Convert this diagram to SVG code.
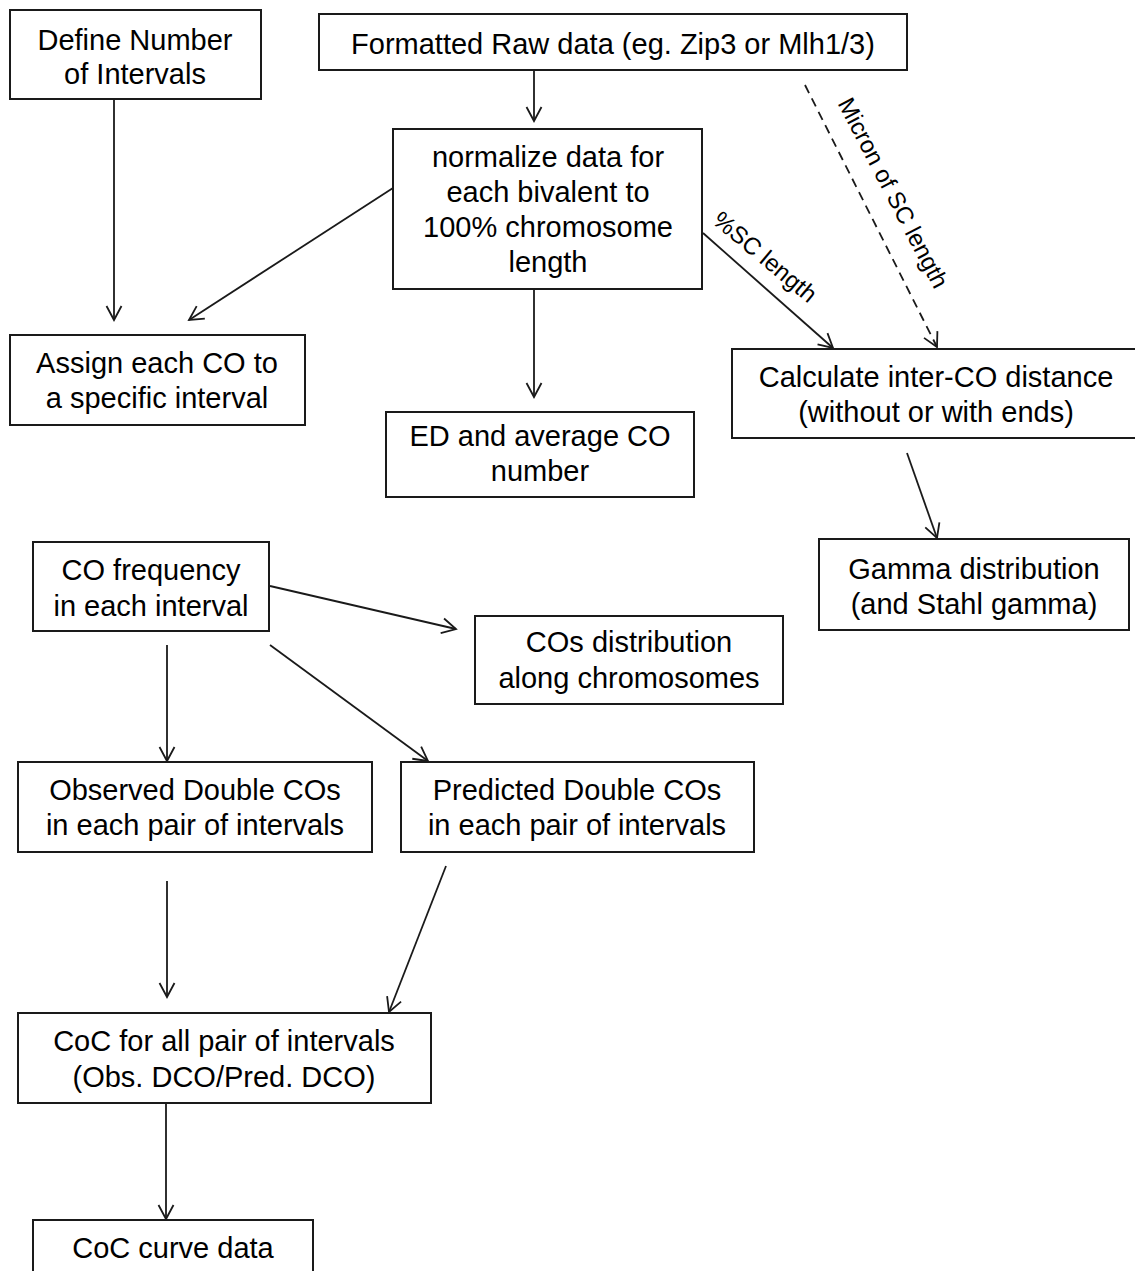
<svg xmlns="http://www.w3.org/2000/svg" width="1135" height="1271" viewBox="0 0 1135 1271">
  <style>
    .box { fill: #ffffff; stroke: #1a1a1a; stroke-width: 2; }
    .lbl { font-family: "Liberation Sans", Arial, sans-serif; font-size: 29px; fill: #000000; text-anchor: middle; }
    .edge { fill: none; stroke: #1a1a1a; stroke-width: 1.8; }
    .dash { stroke-dasharray: 9 6; }
    .elbl { font-family: "Liberation Sans", Arial, sans-serif; font-size: 24px; fill: #000000; text-anchor: middle; }
  </style>
  <defs>
    <marker id="arrow" markerUnits="userSpaceOnUse" viewBox="-16 -9 18 18" markerWidth="18" markerHeight="18" refX="0" refY="0" orient="auto">
      <path d="M-14,-7.5 L0,0 L-14,7.5" fill="none" stroke="#1a1a1a" stroke-width="1.8"/>
    </marker>
  </defs>
  <rect width="1135" height="1271" fill="#ffffff"/>

  <!-- connectors -->
  <g id="connectors">
    <line class="edge" x1="114" y1="99" x2="114" y2="320" marker-end="url(#arrow)"/>
    <line class="edge" x1="534" y1="70" x2="534" y2="121" marker-end="url(#arrow)"/>
    <line class="edge" x1="393" y1="188" x2="189" y2="320" marker-end="url(#arrow)"/>
    <line class="edge" x1="534" y1="289" x2="534" y2="397" marker-end="url(#arrow)"/>
    <line class="edge" x1="703" y1="233" x2="833" y2="348" marker-end="url(#arrow)"/>
    <line class="edge dash" x1="805" y1="85" x2="937" y2="347" marker-end="url(#arrow)"/>
    <line class="edge" x1="907" y1="453" x2="937" y2="538" marker-end="url(#arrow)"/>
    <line class="edge" x1="270" y1="586" x2="456" y2="629" marker-end="url(#arrow)"/>
    <line class="edge" x1="167" y1="645" x2="167" y2="761" marker-end="url(#arrow)"/>
    <line class="edge" x1="270" y1="645" x2="428" y2="761" marker-end="url(#arrow)"/>
    <line class="edge" x1="167" y1="881" x2="167" y2="997" marker-end="url(#arrow)"/>
    <line class="edge" x1="446" y1="866" x2="389" y2="1012" marker-end="url(#arrow)"/>
    <line class="edge" x1="166" y1="1103" x2="166" y2="1219" marker-end="url(#arrow)"/>
    <text class="elbl" transform="translate(765,257) rotate(40)" y="8">%SC length</text>
    <text class="elbl" transform="translate(893,193) rotate(62.5)" y="8">Micron of SC length</text>
  </g>

  <g id="define-intervals">
    <rect class="box" x="10" y="10" width="251" height="89"/>
    <text class="lbl" x="135" y="50">Define Number</text>
    <text class="lbl" x="135" y="84">of Intervals</text>
  </g>

  <g id="raw-data">
    <rect class="box" x="319" y="14" width="588" height="56"/>
    <text class="lbl" x="613" y="54">Formatted Raw data (eg. Zip3 or Mlh1/3)</text>
  </g>

  <g id="normalize">
    <rect class="box" x="393" y="129" width="309" height="160"/>
    <text class="lbl" x="548" y="167">normalize data for</text>
    <text class="lbl" x="548" y="202">each bivalent to</text>
    <text class="lbl" x="548" y="237">100% chromosome</text>
    <text class="lbl" x="548" y="272">length</text>
  </g>

  <g id="assign-co">
    <rect class="box" x="10" y="335" width="295" height="90"/>
    <text class="lbl" x="157" y="373">Assign each CO to</text>
    <text class="lbl" x="157" y="408">a specific interval</text>
  </g>

  <g id="ed-average">
    <rect class="box" x="386" y="412" width="308" height="85"/>
    <text class="lbl" x="540" y="446">ED and average CO</text>
    <text class="lbl" x="540" y="481">number</text>
  </g>

  <g id="inter-co">
    <rect class="box" x="732" y="349" width="410" height="89"/>
    <text class="lbl" x="936" y="387">Calculate inter-CO distance</text>
    <text class="lbl" x="936" y="422">(without or with ends)</text>
  </g>

  <g id="gamma">
    <rect class="box" x="819" y="539" width="310" height="91"/>
    <text class="lbl" x="974" y="579">Gamma distribution</text>
    <text class="lbl" x="974" y="614">(and Stahl gamma)</text>
  </g>

  <g id="co-frequency">
    <rect class="box" x="33" y="542" width="236" height="89"/>
    <text class="lbl" x="151" y="580">CO frequency</text>
    <text class="lbl" x="151" y="616">in each interval</text>
  </g>

  <g id="co-distribution">
    <rect class="box" x="475" y="616" width="308" height="88"/>
    <text class="lbl" x="629" y="652">COs distribution</text>
    <text class="lbl" x="629" y="688">along chromosomes</text>
  </g>

  <g id="observed-dco">
    <rect class="box" x="18" y="762" width="354" height="90"/>
    <text class="lbl" x="195" y="800">Observed Double COs</text>
    <text class="lbl" x="195" y="835">in each pair of intervals</text>
  </g>

  <g id="predicted-dco">
    <rect class="box" x="401" y="762" width="353" height="90"/>
    <text class="lbl" x="577" y="800">Predicted Double COs</text>
    <text class="lbl" x="577" y="835">in each pair of intervals</text>
  </g>

  <g id="coc-pairs">
    <rect class="box" x="18" y="1013" width="413" height="90"/>
    <text class="lbl" x="224" y="1051">CoC for all pair of intervals</text>
    <text class="lbl" x="224" y="1087">(Obs. DCO/Pred. DCO)</text>
  </g>

  <g id="coc-curve">
    <rect class="box" x="33" y="1220" width="280" height="70"/>
    <text class="lbl" x="173" y="1258">CoC curve data</text>
  </g>
</svg>
